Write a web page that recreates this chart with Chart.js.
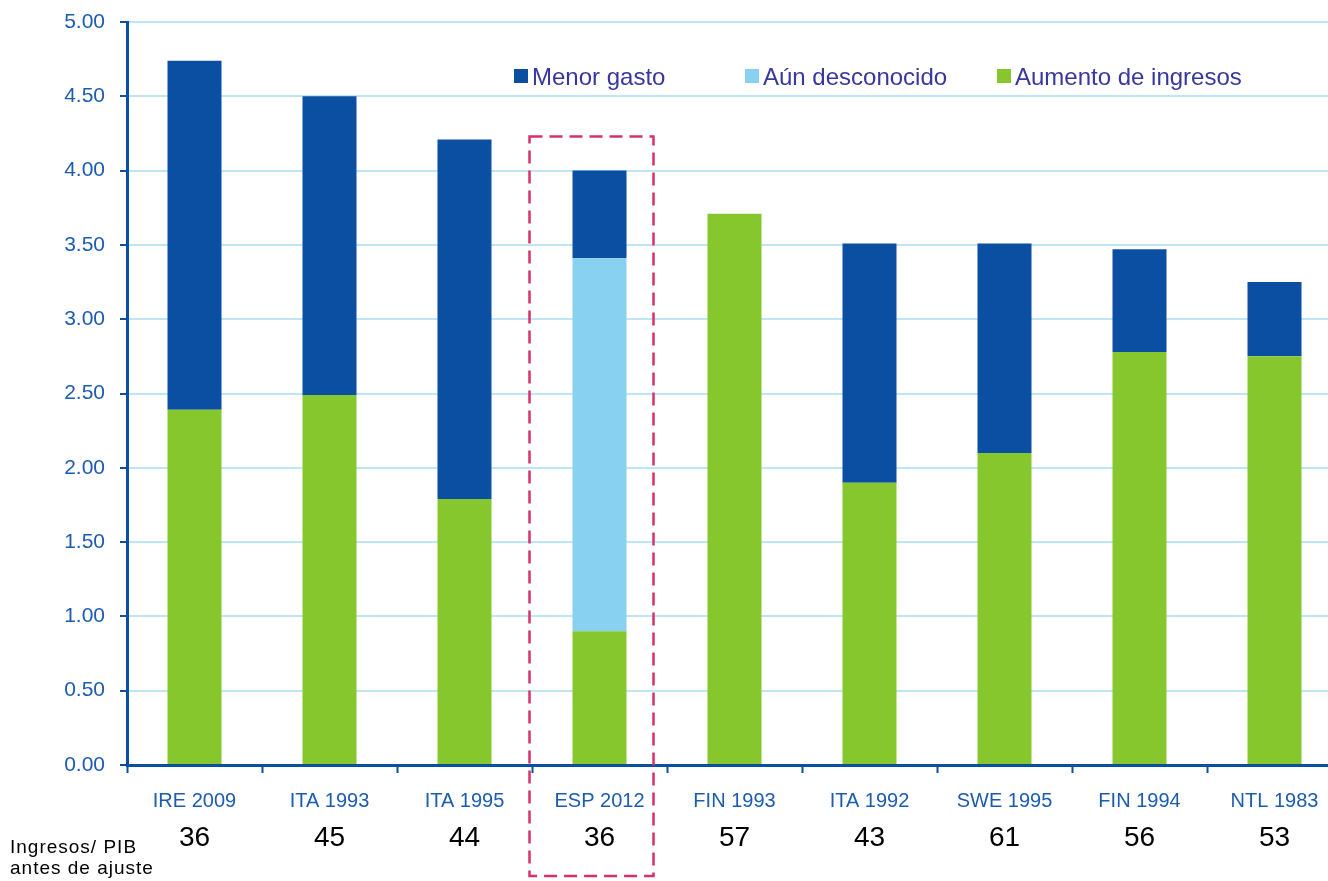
<!DOCTYPE html>
<html>
<head>
<meta charset="utf-8">
<script src="https://cdn.jsdelivr.net/npm/chart.js@4"></script>
<style>
  html, body { margin: 0; padding: 0; background: #fff; overflow: hidden; }
  #wrap { width: 1342px; height: 881px; }
</style>
</head>
<body>
<div id="wrap"><canvas id="ajuste-graph" width="1342" height="881"></canvas></div>
<script>
const ctx = document.getElementById('ajuste-graph');
const paises = ['IRE 2009', 'ITA 1993', 'ITA 1995', 'ESP 2012', 'FIN 1993', 'ITA 1992', 'SWE 1995', 'FIN 1994', 'NTL 1983'];
const ingresos = [2.39, 2.49, 1.79, 0.90, 3.71, 1.90, 2.10, 2.78, 2.75];
const desconocido = [0, 0, 0, 2.51, 0, 0, 0, 0, 0];
const gasto = [2.35, 2.01, 2.42, 0.59, 0, 1.61, 1.41, 0.69, 0.50];
const ingresosPib = [36, 45, 44, 36, 57, 43, 61, 56, 53];
const marcado = 3; // ESP 2012

const azul = '#0b4fa3';
const celeste = '#88d1f1';
const verde = '#87c72e';
const rejilla = '#bfe6f7';

// leyenda, cifras de ingresos/PIB y recuadro
const extras = {
  id: 'extras',
  afterDraw(chart) {
    const c = chart.ctx;
    const x = chart.scales.x;
    const y = chart.scales.y;
    c.save();
    // leyenda
    const items = [['Menor gasto', azul, 514], ['Aún desconocido', celeste, 745], ['Aumento de ingresos', verde, 997]];
    c.font = '24px "Liberation Sans", Arial, sans-serif';
    c.textBaseline = 'middle';
    c.textAlign = 'left';
    items.forEach(([t, col, px]) => {
      c.fillStyle = col;
      c.fillRect(px, 69, 14, 14);
      c.fillStyle = '#37379f';
      c.fillText(t, px + 18, 78);
    });
    // Ingresos/PIB
    c.fillStyle = '#000';
    c.font = '28px "Liberation Sans", Arial, sans-serif';
    c.textAlign = 'center';
    ingresosPib.forEach((v, i) => {
      c.fillText(String(v), x.getPixelForValue(i), 838);
    });
    c.font = '19px "Liberation Sans", Arial, sans-serif';
    c.letterSpacing = '1px';
    c.textAlign = 'left';
    c.fillText('Ingresos/ PIB', 10, 848);
    c.fillText('antes de ajuste', 10, 869);
    c.letterSpacing = '0px';
    // recuadro
    const cx = x.getPixelForValue(marcado);
    const arriba = y.getPixelForValue(4.23);
    c.strokeStyle = '#d8306c';
    c.lineWidth = 2.5;
    c.setLineDash([13, 7]);
    c.strokeRect(cx - 70, arriba, 124, 876 - arriba);
    c.restore();
  }
};

new Chart(ctx, {
  type: 'bar',
  data: {
    labels: paises,
    datasets: [
      { label: 'Aumento de ingresos', data: ingresos, backgroundColor: verde },
      { label: 'Aún desconocido', data: desconocido, backgroundColor: celeste },
      { label: 'Menor gasto', data: gasto, backgroundColor: azul }
    ]
  },
  options: {
    responsive: false,
    animation: false,
    layout: { padding: { top: 22, right: 0, bottom: 0, left: 0 } },
    datasets: { bar: { barPercentage: 0.4, categoryPercentage: 1 } },
    plugins: { legend: { display: false }, tooltip: { enabled: false } },
    scales: {
      x: {
        stacked: true,
        afterFit(s) { s.height = 116; s.paddingLeft = 0; s.paddingRight = 0; },
        border: { color: azul, width: 3 },
        grid: { drawOnChartArea: false, drawTicks: true, tickLength: 8, tickColor: azul, tickWidth: 2 },
        ticks: { color: '#1c5cb0', font: { family: '"Liberation Sans", Arial, sans-serif', size: 20 }, padding: 16, maxRotation: 0 }
      },
      y: {
        stacked: true,
        min: 0,
        max: 5,
        afterFit(s) { s.width = 127; s.paddingTop = 0; s.paddingBottom = 0; },
        border: { color: azul, width: 3 },
        grid: { color: rejilla, lineWidth: 2, tickLength: 7, tickColor: azul, tickWidth: 2 },
        ticks: {
          stepSize: 0.5,
          color: '#1c5cb0',
          padding: 15,
          font: { family: '"Liberation Sans", Arial, sans-serif', size: 21 },
          callback: v => Number(v).toFixed(2)
        }
      }
    }
  },
  plugins: [extras]
});
</script>
</body>
</html>
